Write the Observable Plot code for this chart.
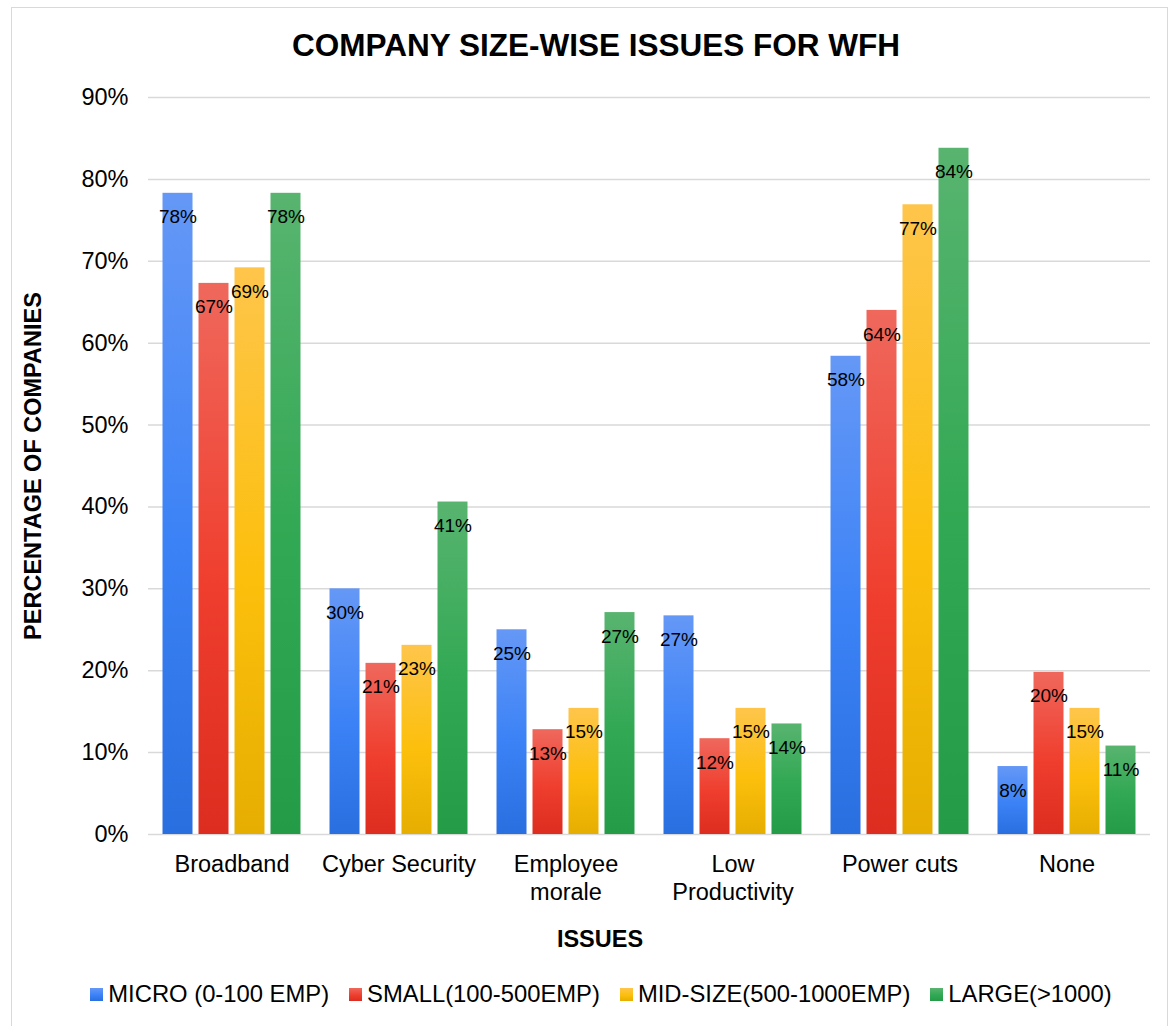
<!DOCTYPE html>
<html>
<head>
<meta charset="utf-8">
<script src="https://cdn.jsdelivr.net/npm/d3@7"></script>
<script src="https://cdn.jsdelivr.net/npm/@observablehq/plot@0.6"></script>
<style>
  body { margin: 0; background: #fff; font-family: Arial, "Liberation Sans", sans-serif; color: #000; }
  #wrap { position: relative; width: 1173px; height: 1026px; overflow: hidden; background: #fff; }
  #frame { position: absolute; left: 11px; top: 7px; width: 1157px; height: 1040px; border: 1px solid #d9d9d9; box-sizing: border-box; pointer-events: none; }
  #title { height: 75px; box-sizing: border-box; padding-top: 25px; padding-left: 19px; line-height: 40px; font-size: 31.5px; font-weight: bold; text-align: center; white-space: nowrap; }
  #chart svg { display: block; }
  #xtitle { height: 48px; line-height: 48px; font-size: 23.5px; font-weight: bold; text-align: center; padding-left: 27px; }
  #legend { height: 62px; display: flex; align-items: center; justify-content: center; padding-left: 29px; font-size: 23.8px; white-space: nowrap; }
  .item { display: flex; align-items: center; margin: 0 10px; }
  .sw { width: 13px; height: 13px; margin-right: 5px; }
</style>
</head>
<body>
<div id="wrap">
  <div id="frame"></div>
  <div id="title">COMPANY SIZE-WISE ISSUES FOR WFH</div>
  <div id="chart"></div>
  <div id="xtitle">ISSUES</div>
  <div id="legend"></div>
</div>
<script>
// ---- data ----
const categories = ["Broadband", "Cyber Security", "Employee morale", "Low Productivity", "Power cuts", "None"];
const categoryLabels = ["Broadband", "Cyber Security", "Employee\nmorale", "Low\nProductivity", "Power cuts", "None"];
const series = ["MICRO (0-100 EMP)", "SMALL(100-500EMP)", "MID-SIZE(500-1000EMP)", "LARGE(>1000)"];
const micro   = [78.3, 30.0, 25.0, 26.7, 58.4, 8.3];
const small   = [67.3, 20.9, 12.8, 11.7, 64.0, 19.8];
const midSize = [69.2, 23.1, 15.4, 15.4, 76.9, 15.4];
const large   = [78.3, 40.6, 27.1, 13.5, 83.8, 10.8];
const yTicks = [0, 10, 20, 30, 40, 50, 60, 70, 80, 90];
const yTitle = "PERCENTAGE OF COMPANIES";

// ---- styles ----
const gradients = [
  {id: "gBlue",   stops: ["#6598f6", "#3b82f6", "#2a6fe0"]},
  {id: "gRed",    stops: ["#ef685c", "#ef3e2e", "#dc2d20"]},
  {id: "gYellow", stops: ["#fec54b", "#fcbf0c", "#e6ae01"]},
  {id: "gGreen",  stops: ["#58b46f", "#31a853", "#249c47"]}
];

const seriesValues = [micro, small, midSize, large];
const data = [];
categories.forEach((c, i) => {
  series.forEach((s, j) => data.push({issue: c, size: s, value: seriesValues[j][i]}));
});

const chart = Plot.plot({
  width: 1173,
  height: 840,
  marginTop: 22,
  marginBottom: 81,
  marginLeft: 148,
  marginRight: 23,
  style: {fontFamily: "Arial, 'Liberation Sans', sans-serif", fontSize: "23.5px", background: "transparent", color: "#000", overflow: "visible"},
  fx: {domain: categories, padding: 0, round: false, label: null},
  x: {domain: series, paddingInner: 6 / 36, paddingOuter: 0.403, round: false, axis: null},
  y: {domain: [0, 90], label: null},
  color: {domain: series, range: gradients.map(g => `url(#${g.id})`)},
  marks: [
    Plot.ruleY(yTicks, {stroke: "#d9d9d9", strokeWidth: 1.5}),
    Plot.barY(data, {fx: "issue", x: "size", y: "value", fill: "size", inset: 0}),
    Plot.text(data, {fx: "issue", x: "size", y: "value", text: d => Math.round(d.value) + "%", dy: 24, fontSize: 19, fill: "#000"}),
    Plot.axisY({ticks: yTicks, tickFormat: d => d + "%", tickSize: 0, tickPadding: 20, fontSize: 23.5,
      label: yTitle, labelAnchor: "center", labelOffset: 124, labelArrow: false}),
    Plot.axisFx({anchor: "bottom", tickFormat: d => categoryLabels[categories.indexOf(d)], tickSize: 0, tickPadding: 18,
      fontSize: 23.5, lineHeight: 1.19, label: null})
  ]
});

// gradient definitions
const defs = d3.select(chart).insert("defs", ":first-child");
gradients.forEach(g => {
  const lg = defs.append("linearGradient").attr("id", g.id).attr("x1", 0).attr("y1", 0).attr("x2", 0).attr("y2", 1);
  lg.append("stop").attr("offset", "0%").attr("stop-color", g.stops[0]);
  lg.append("stop").attr("offset", "55%").attr("stop-color", g.stops[1]);
  lg.append("stop").attr("offset", "100%").attr("stop-color", g.stops[2]);
});

// bold y-axis title
d3.select(chart).selectAll("text")
  .filter(function() { return this.textContent === yTitle; })
  .style("font-weight", "bold").style("font-size", "23.5px");

document.getElementById("chart").appendChild(chart);

// legend
const legend = d3.select("#legend");
series.forEach((s, j) => {
  const it = legend.append("div").attr("class", "item");
  it.append("div").attr("class", "sw")
    .style("background", `linear-gradient(${gradients[j].stops[0]}, ${gradients[j].stops[1]} 55%, ${gradients[j].stops[2]})`);
  it.append("span").text(s);
});
</script>
</body>
</html>
